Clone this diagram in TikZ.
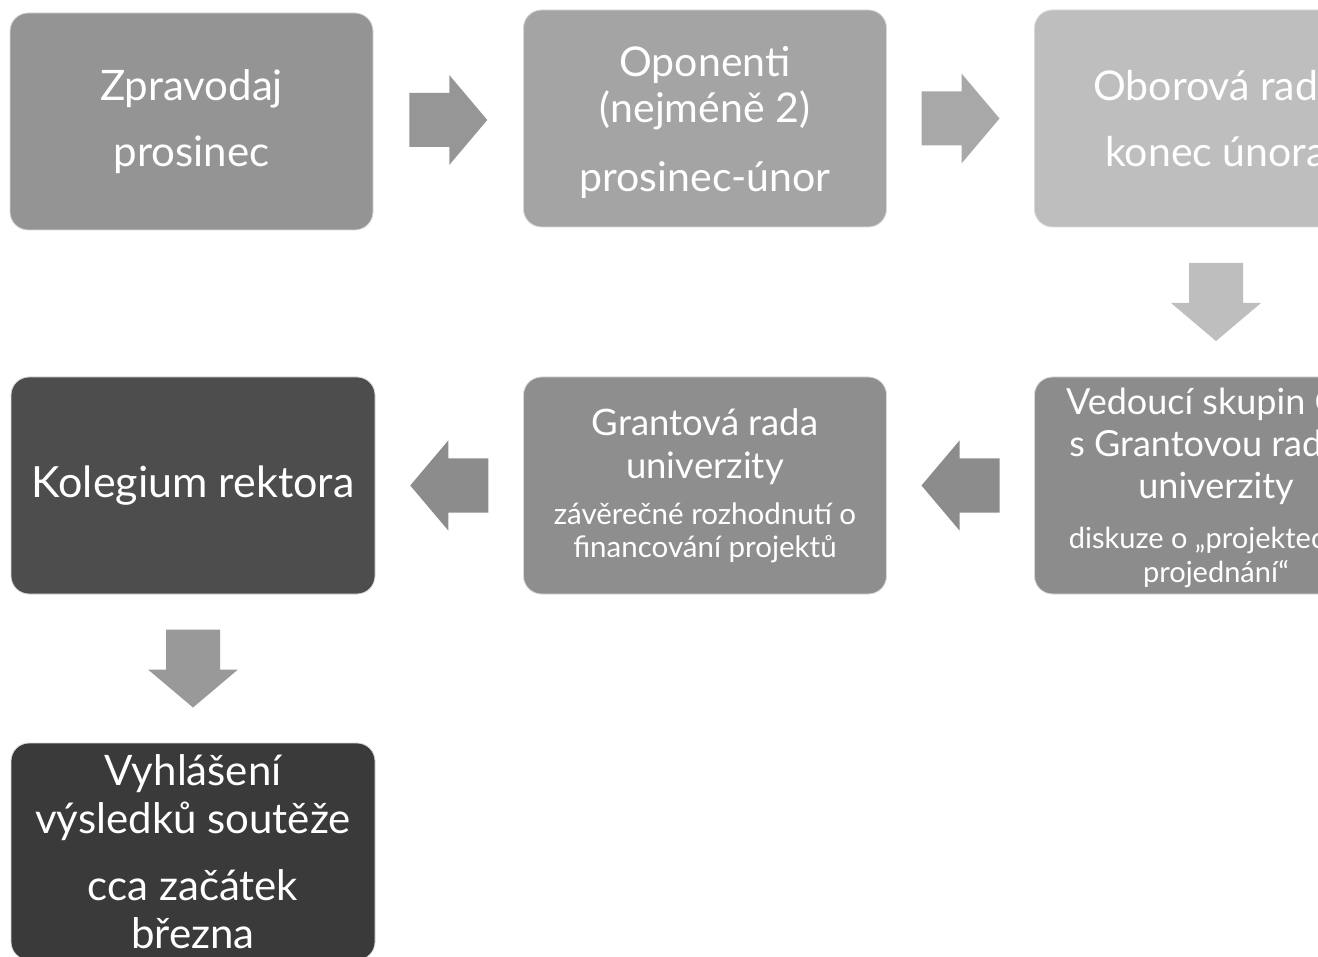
\documentclass[tikz,border=0pt]{standalone}
\usepackage{fontspec}
\setmainfont{Lato}
\usetikzlibrary{calc}
\definecolor{cA}{HTML}{949494}
\definecolor{cB}{HTML}{A4A4A4}
\definecolor{cC}{HTML}{BEBEBE}
\definecolor{cD}{HTML}{8C8C8C}
\definecolor{cE}{HTML}{8E8E8E}
\definecolor{cF}{HTML}{4D4D4D}
\definecolor{cG}{HTML}{3A3A3A}
\definecolor{aA}{HTML}{969696}
\definecolor{aB}{HTML}{A8A8A8}
\definecolor{aC}{HTML}{BEBEBE}
\definecolor{aD}{HTML}{8C8C8C}
\definecolor{aE}{HTML}{999999}
\newcommand{\fs}[2]{\fontsize{#1}{#2}\selectfont\spaceskip=0pt\xspaceskip=0pt\relax}
\tikzset{
  box/.style={rectangle, rounded corners=18pt, minimum width=363pt, minimum height=217pt,
    inner sep=0pt, align=flush center, text width=355pt, text=white, draw=white!85!black, line width=0.8pt},
  boxtext/.style={inner sep=0pt, align=flush center, text width=355pt, text=white},
}
\begin{document}
\begin{tikzpicture}[x=1pt,y=-1pt]
\clip (0,0) rectangle (1318,957);
\fill[white] (0,0) rectangle (1318,957);
% boxes
\node[box, fill=cA] (b1) at (191.5,121.5) {\fs{42}{66}Zpravodaj\\prosinec\par};
\node[box, fill=cB] (b2) at (705,118.5) {};
\node[boxtext] at (705,122) {\fs{41}{46}Oponenti\\(nejméně 2)\par\vspace{23pt}prosinec-únor\par};
\node[box, fill=cC] (b3) at (1216,118.5) {\fs{41}{66}Oborová rada\\konec února\par};
\node[box, fill=cD] (b4) at (1216,485.5) {};
\node[boxtext] at (1216,487.5) {\fs{36}{42}Vedoucí skupin OR\\s Grantovou radou\\univerzity\par\vspace{16pt}\fs{29}{34}diskuze o „projektech k\\projednání“\par};
\node[box, fill=cE] (b5) at (705,485.5) {\fs{36.5}{43}Grantová rada\\univerzity\par\vspace{13pt}\fs{29.5}{33}závěrečné rozhodnutí o\\financování projektů\par};
\node[box, fill=cF, minimum width=364pt] (b6) at (193,485.5) {\fs{43}{50}Kolegium rektora\par};
\node[box, fill=cG, minimum width=364pt] (b7) at (193,851.5) {\fs{42}{48}Vyhlášení\\výsledků soutěže\par\vspace{19pt}cca začátek\\března\par};
% block arrows
\coordinate (m12) at ($(b1.east)!0.5!(b2.west)$);
\coordinate (m23) at ($(b2.east)!0.5!(b3.west)$);
\coordinate (m34) at ($(b3.south)!0.5!(b4.north)$);
\coordinate (m45) at ($(b4.west)!0.5!(b5.east)$);
\coordinate (m56) at ($(b5.west)!0.5!(b6.east)$);
\coordinate (m67) at ($(b6.south)!0.5!(b7.north)$);
\fill[aA, shift={(m12)}] (-39,-27) -- (1,-27) -- (1,-45) -- (39,0) -- (1,45) -- (1,27) -- (-39,27) -- cycle;
\fill[aB, shift={(m23)}] (-39,-27) -- (1,-27) -- (1,-45) -- (39,0) -- (1,45) -- (1,27) -- (-39,27) -- cycle;
\fill[aD, shift={(m45)}] (39,-27) -- (-1,-27) -- (-1,-45) -- (-39,0) -- (-1,45) -- (-1,27) -- (39,27) -- cycle;
\fill[aD, shift={(m56)}] (39,-27) -- (-1,-27) -- (-1,-45) -- (-39,0) -- (-1,45) -- (-1,27) -- (39,27) -- cycle;
\fill[aC, shift={(m34)}] (-27,-39) -- (-27,1) -- (-45,1) -- (0,39) -- (45,1) -- (27,1) -- (27,-39) -- cycle;
\fill[aE, shift={(m67)}] (-27,-39) -- (-27,1) -- (-45,1) -- (0,39) -- (45,1) -- (27,1) -- (27,-39) -- cycle;
\end{tikzpicture}
\end{document}
